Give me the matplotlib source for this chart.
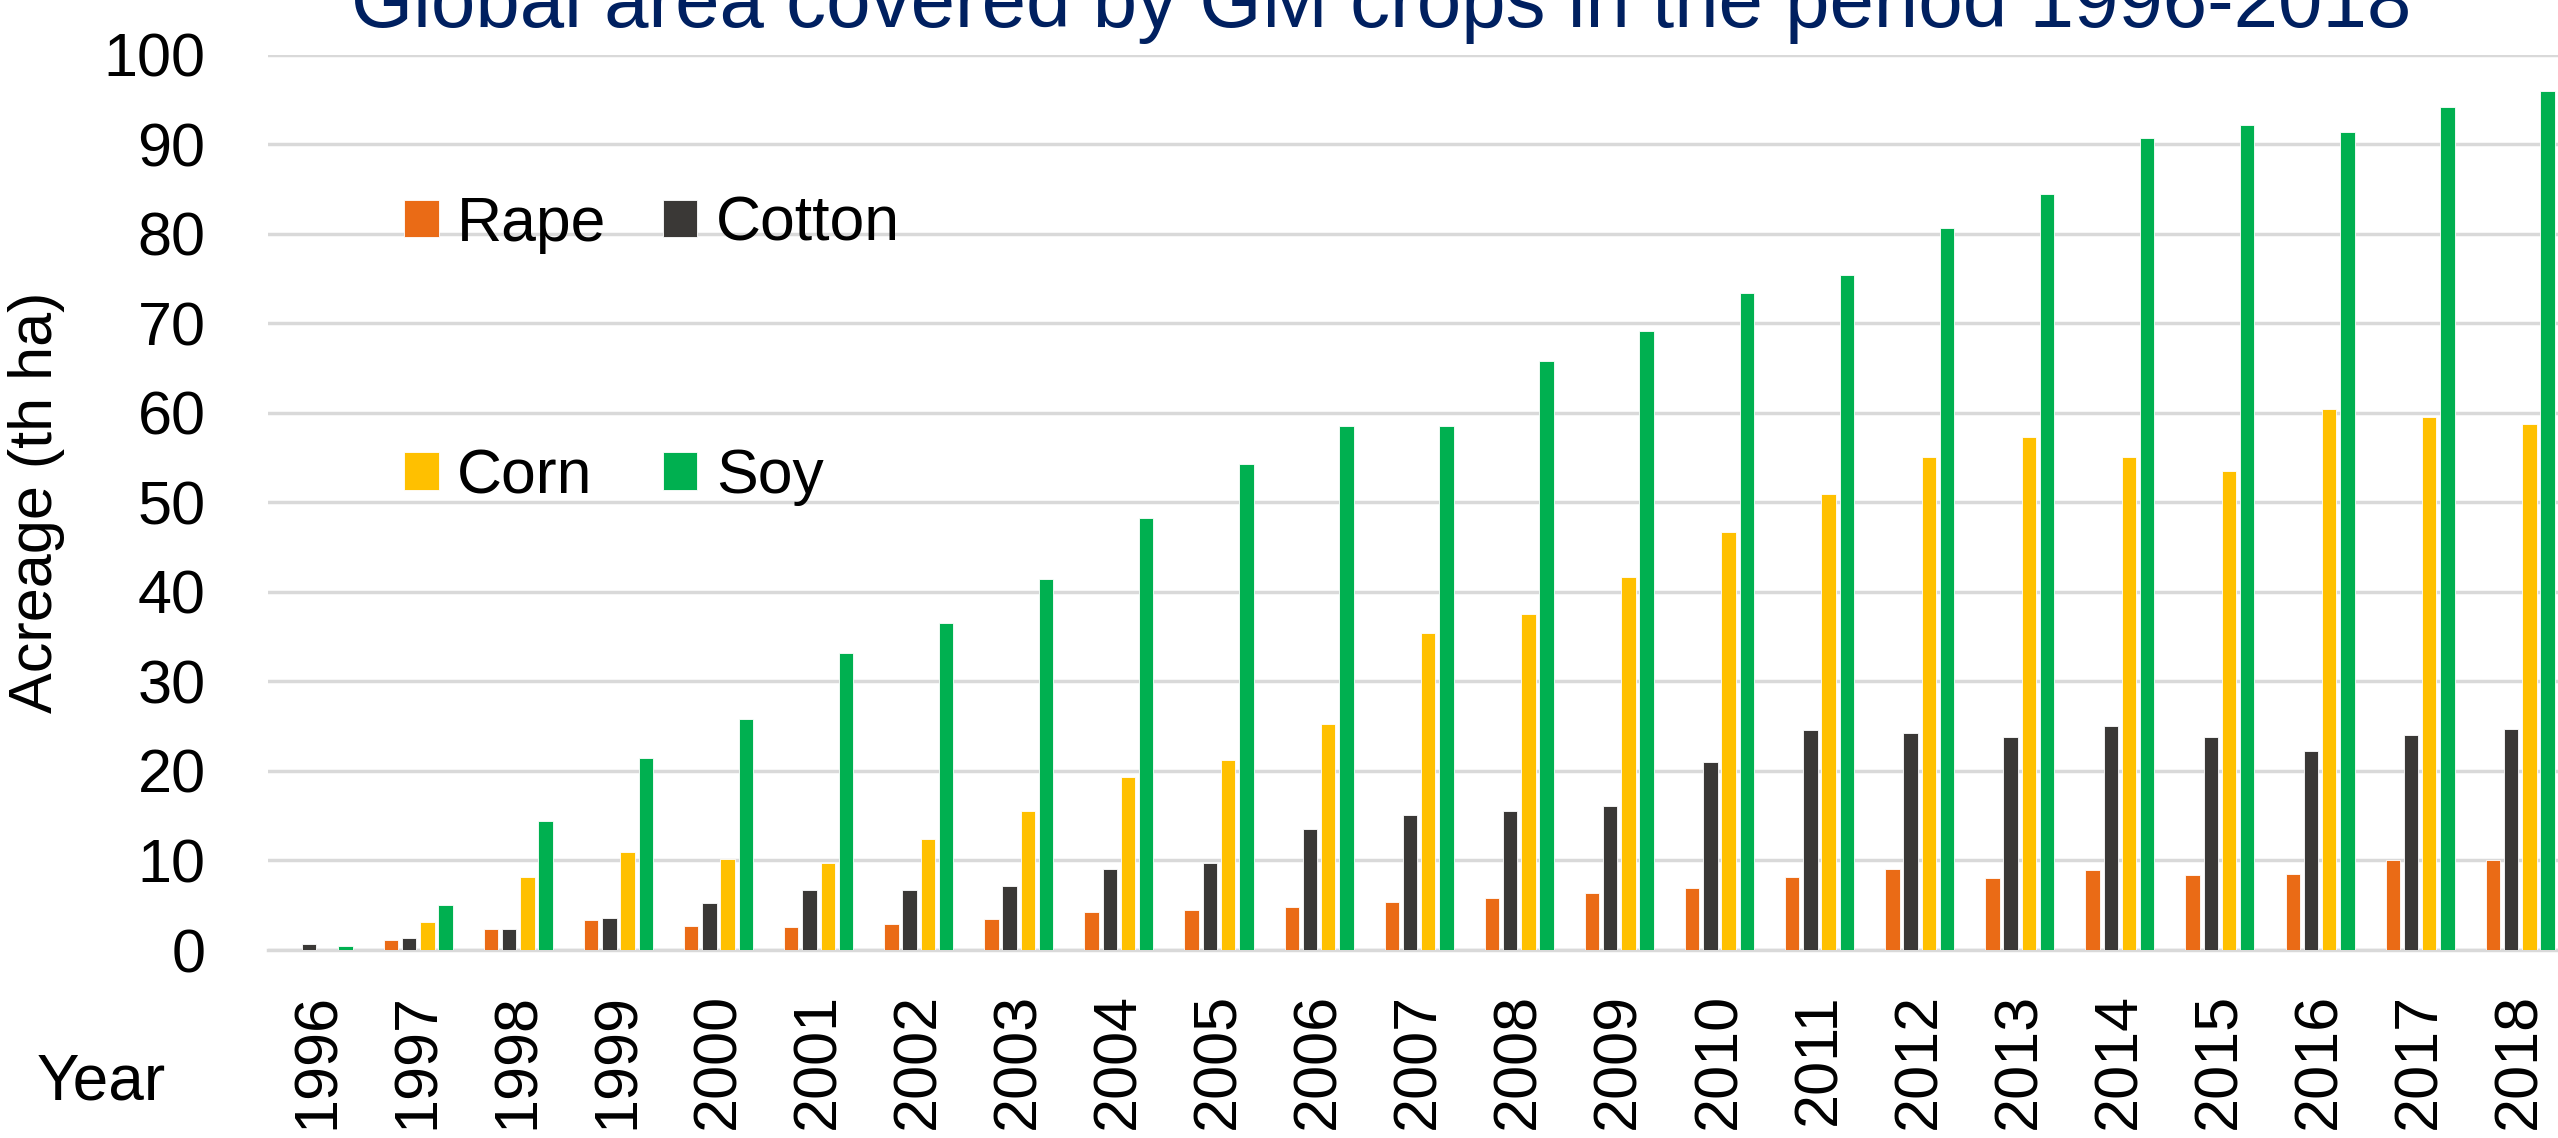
import numpy as np
import matplotlib
matplotlib.use("Agg")
import matplotlib.pyplot as plt

# data
years = [str(y) for y in range(1996, 2019)]
rape = [0, 1.1, 2.3, 3.3, 2.7, 2.6, 2.9, 3.5, 4.2, 4.5, 4.8, 5.4, 5.8, 6.4, 6.9, 8.2, 9.1, 8.1, 8.9, 8.4, 8.5, 10.1, 10.0]
cotton = [0.7, 1.3, 2.4, 3.6, 5.2, 6.7, 6.7, 7.2, 9.0, 9.7, 13.5, 15.1, 15.5, 16.1, 21.0, 24.6, 24.2, 23.8, 25.0, 23.8, 22.2, 24.0, 24.7]
corn = [0, 3.1, 8.2, 11.0, 10.2, 9.7, 12.4, 15.5, 19.3, 21.2, 25.2, 35.4, 37.5, 41.7, 46.7, 50.9, 55.1, 57.3, 55.1, 53.5, 60.5, 59.6, 58.8]
soy = [0.4, 5.0, 14.4, 21.5, 25.8, 33.2, 36.5, 41.4, 48.3, 54.3, 58.5, 58.5, 65.8, 69.2, 73.4, 75.4, 80.7, 84.5, 90.7, 92.2, 91.4, 94.2, 96.0]
labels = ["Rape", "Cotton", "Corn", "Soy"]
colors = ["#EA6B16", "#3A3836", "#FFC000", "#00B050"]

plt.rcParams['font.family'] = ['Liberation Sans', 'DejaVu Sans']

fig = plt.figure(figsize=(25.58, 11.38), dpi=100)
ax = fig.add_axes([0.1048, 0.1652, 0.900, 0.7865])

x = np.arange(len(years))
w = 0.144
step = 0.182
bars = []
for i, (vals, lab, col) in enumerate(zip([rape, cotton, corn, soy], labels, colors)):
    off = (i - 1.5) * step
    b = ax.bar(x + off, vals, width=w, color=col, label=lab, edgecolor="white", linewidth=0.6, zorder=3)
    bars.append(b)

ax.set_xlim(-0.5, len(years) - 0.5)
ax.set_ylim(0, 100)
ax.set_yticks(range(0, 101, 10))
ax.set_xticks(x)
ax.set_xticklabels(years, rotation=90)
ax.tick_params(axis="y", length=0, pad=45, labelsize=44)
ax.tick_params(axis="x", length=0, pad=31, labelsize=44)
ax.grid(axis="y", color="#D9D9D9", linewidth=2.5, zorder=0)
for s in ["top", "right", "left"]:
    ax.spines[s].set_visible(False)
ax.spines["bottom"].set_color("#D9D9D9")
ax.spines["bottom"].set_linewidth(2.5)

ax.set_ylabel("Acreage (th ha)", fontsize=44)
ax.yaxis.set_label_coords(-0.088, 0.5)

fig.text(0.54, 0.976, "Global area covered by GM crops in the period 1996-2018",
         ha="center", va="baseline", fontsize=57.5, color="#002060")
fig.text(0.0145, 0.049, "Year", ha="left", va="center", fontsize=46)

# legend: col 1 = Rape, Corn ; col 2 = Cotton, Soy
h = [bars[0], bars[2], bars[1], bars[3]]
l = [labels[0], labels[2], labels[1], labels[3]]
ax.legend(h, l, ncol=2, loc="upper left", bbox_to_anchor=(0.158, 0.829),
          bbox_transform=fig.transFigure, frameon=False, fontsize=45,
          handlelength=0.55, handleheight=0.55, handletextpad=0.3,
          columnspacing=0.9, labelspacing=3.1, borderpad=0, borderaxespad=0)

fig.savefig("out.png", dpi=100)
